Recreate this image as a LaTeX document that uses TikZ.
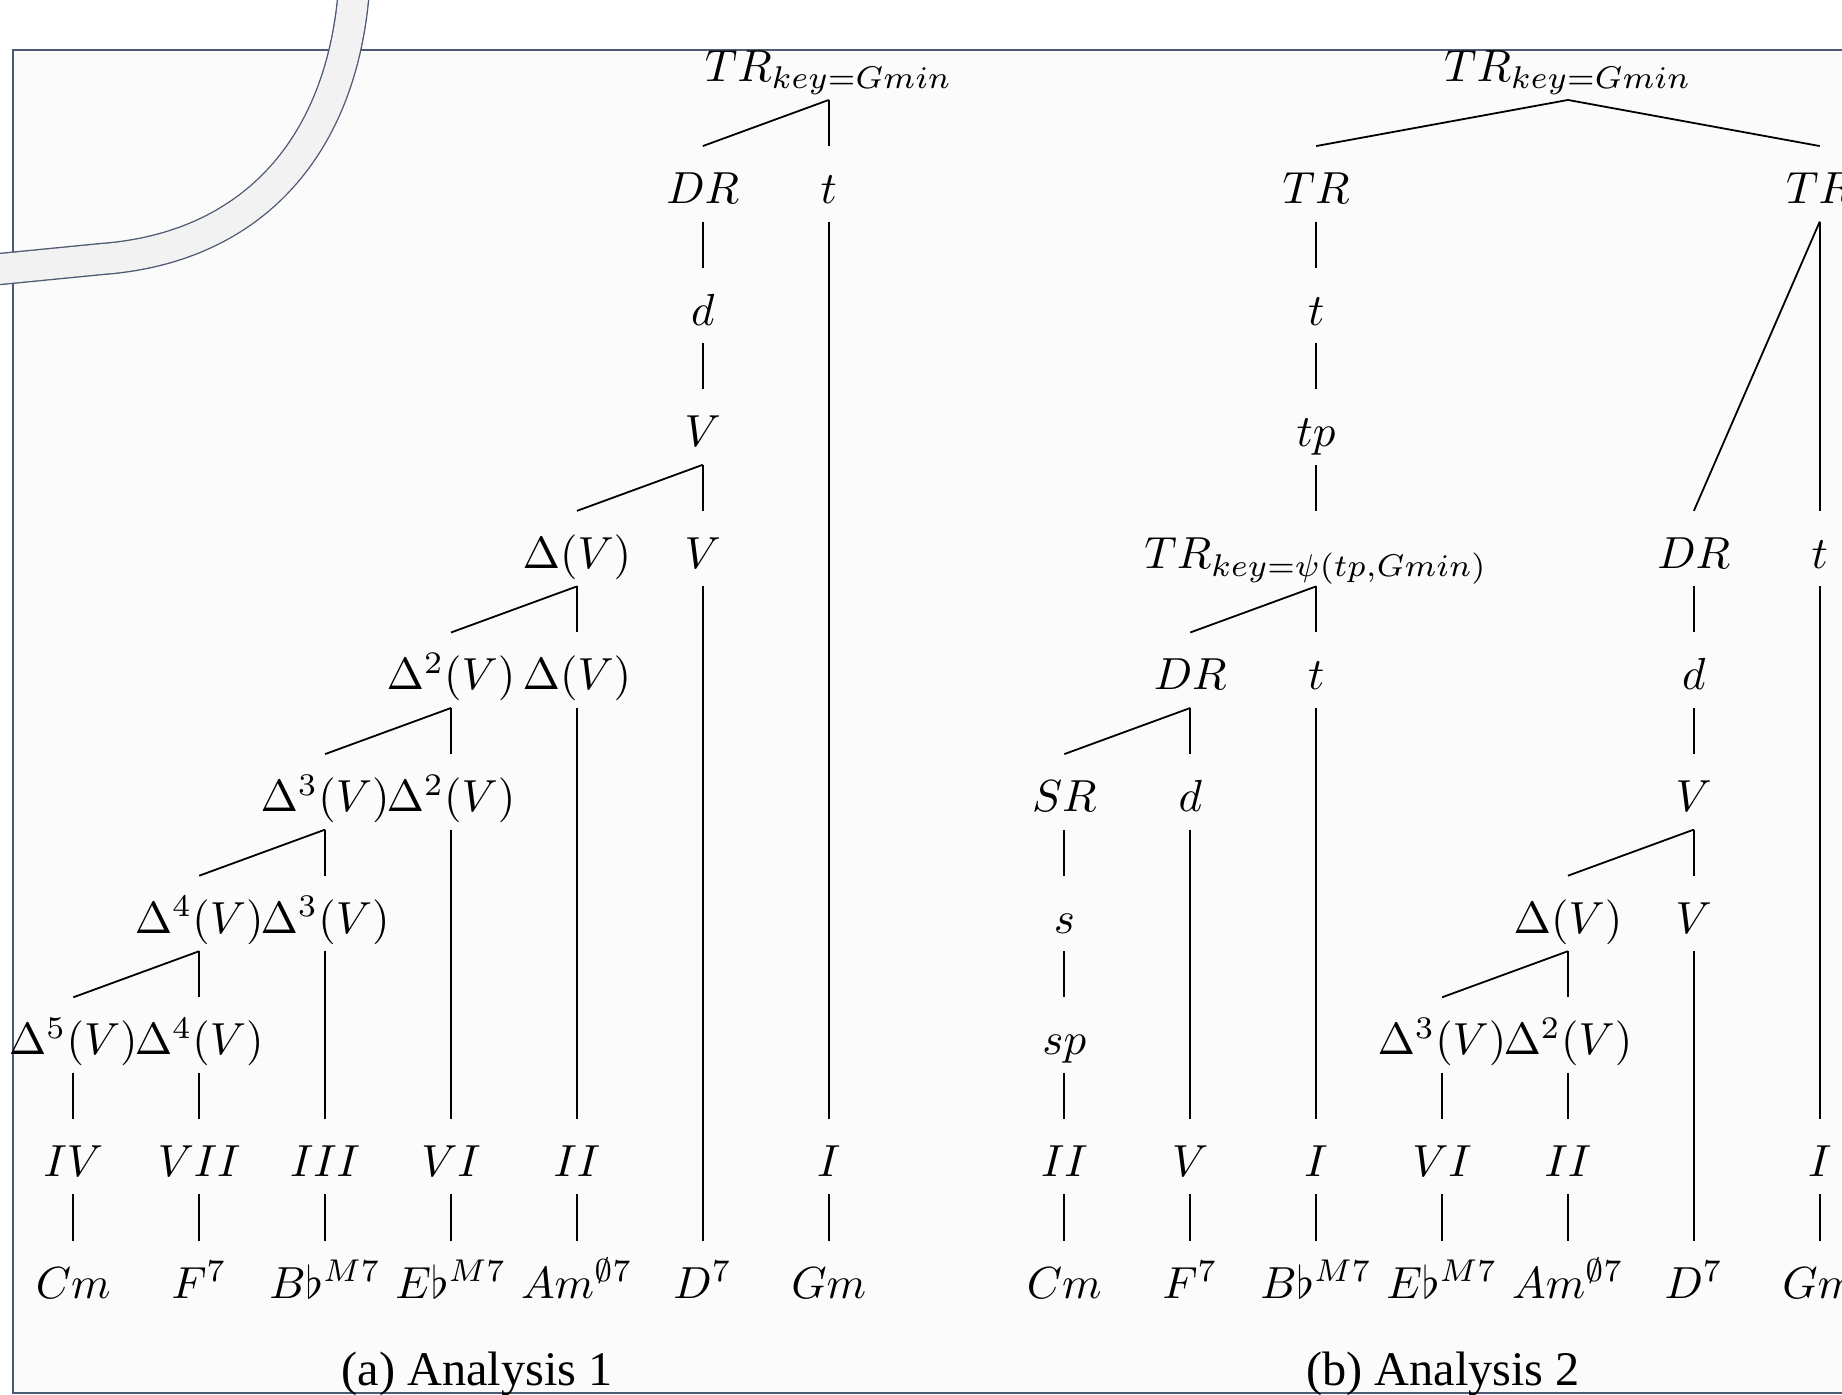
\documentclass[tikz,border=0pt]{standalone}
\usepackage{amsmath}
\usepackage[no-math]{fontspec}
\newfontfamily\capfont{Liberation Serif}
\definecolor{framecol}{HTML}{4E5A74}
\definecolor{panecol}{HTML}{FBFBFB}
\definecolor{bandcol}{HTML}{F2F2F2}
\begin{document}
\begin{tikzpicture}[scale=0.0782]
\tikzstyle{every node}+=[anchor=base, inner xsep=1pt, inner ysep=3.3pt, text height=9.3pt, text depth=0.5pt]
\useasboundingbox (0,0) rectangle (184.2,-139.5);
\clip (0,0) rectangle (184.2,-139.5);
\fill [white] (0,0) rectangle (184.2,-139.5);
\draw [framecol, fill=panecol, line width=0.45pt] (1.27,-5) rectangle (190,-139.3);
% the grey band over the corner
\draw [framecol, line width=0.3pt, double=bandcol, double distance=6.6pt] (35.4,1) -- (35.3,0) .. controls (33.8,-15) and (25,-24.8) .. (10.2,-25.9) -- (-1,-27);
% analysis 1
\node (aroot) at (82.87,-8.2) {$TR_{key=Gmin}$};
\node (adr) at (70.28,-20.36) {$DR$};
\node (at) at (82.87,-20.36) {$t$};
\node (ad) at (70.28,-32.52) {$d$};
\node (av) at (70.28,-44.68) {$V$};
\node (adl1) at (57.69,-56.84) {$\Delta(V)$};
\node (av1) at (70.28,-56.84) {$V$};
\node (adl2) at (45.10,-69) {$\Delta^2(V)$};
\node (adl1b) at (57.69,-69) {$\Delta(V)$};
\node (adl3) at (32.51,-81.16) {$\Delta^3(V)$};
\node (adl2b) at (45.10,-81.16) {$\Delta^2(V)$};
\node (adl4) at (19.92,-93.32) {$\Delta^4(V)$};
\node (adl3b) at (32.51,-93.32) {$\Delta^3(V)$};
\node (adl5) at (7.33,-105.48) {$\Delta^5(V)$};
\node (adl4b) at (19.92,-105.48) {$\Delta^4(V)$};
\node (aiv) at (7.33,-117.64) {$IV$};
\node (avii) at (19.92,-117.64) {$VII$};
\node (aiii) at (32.51,-117.64) {$III$};
\node (avi) at (45.10,-117.64) {$VI$};
\node (aii) at (57.69,-117.64) {$II$};
\node (ai) at (82.87,-117.64) {$I$};
\node (acm) at (7.33,-129.8) {$Cm$};
\node (af) at (19.92,-129.8) {$F^7$};
\node (abb) at (32.51,-129.8) {$B\flat^{M7}$};
\node (aeb) at (45.10,-129.8) {$E\flat^{M7}$};
\node (aam) at (57.69,-129.8) {$Am^{\emptyset7}$};
\node (adseven) at (70.28,-129.8) {$D^7$};
\node (agm) at (82.87,-129.8) {$Gm$};
\draw (aroot.south) -- (adr.north);
\draw (aroot.south) -- (at.north);
\draw (adr.south) -- (ad.north);
\draw (ad.south) -- (av.north);
\draw (av.south) -- (adl1.north);
\draw (av.south) -- (av1.north);
\draw (adl1.south) -- (adl2.north);
\draw (adl1.south) -- (adl1b.north);
\draw (adl2.south) -- (adl3.north);
\draw (adl2.south) -- (adl2b.north);
\draw (adl3.south) -- (adl4.north);
\draw (adl3.south) -- (adl3b.north);
\draw (adl4.south) -- (adl5.north);
\draw (adl4.south) -- (adl4b.north);
\draw (adl5.south) -- (aiv.north);
\draw (adl4b.south) -- (avii.north);
\draw (adl3b.south) -- (aiii.north);
\draw (adl2b.south) -- (avi.north);
\draw (adl1b.south) -- (aii.north);
\draw (av1.south) -- (adseven.north);
\draw (at.south) -- (ai.north);
\draw (aiv.south) -- (acm.north);
\draw (avii.south) -- (af.north);
\draw (aiii.south) -- (abb.north);
\draw (avi.south) -- (aeb.north);
\draw (aii.south) -- (aam.north);
\draw (ai.south) -- (agm.north);
% analysis 2
\node (broot) at (156.79,-8.2) {$TR_{key=Gmin}$};
\node (btrl) at (131.61,-20.36) {$TR$};
\node (btrr) at (181.97,-20.36) {$TR$};
\node (bt) at (131.61,-32.52) {$t$};
\node (btp) at (131.61,-44.68) {$tp$};
\node (btrk) at (131.61,-56.84) {$TR_{key=\psi(tp,Gmin)}$};
\node (bdr2) at (169.38,-56.84) {$DR$};
\node (bt2) at (181.97,-56.84) {$t$};
\node (bdr) at (119.02,-69) {$DR$};
\node (btt) at (131.61,-69) {$t$};
\node (bd2) at (169.38,-69) {$d$};
\node (bsr) at (106.43,-81.16) {$SR$};
\node (bd) at (119.02,-81.16) {$d$};
\node (bv) at (169.38,-81.16) {$V$};
\node (bs) at (106.43,-93.32) {$s$};
\node (bdl1) at (156.79,-93.32) {$\Delta(V)$};
\node (bv1) at (169.38,-93.32) {$V$};
\node (bsp) at (106.43,-105.48) {$sp$};
\node (bdl3) at (144.20,-105.48) {$\Delta^3(V)$};
\node (bdl2) at (156.79,-105.48) {$\Delta^2(V)$};
\node (bii) at (106.43,-117.64) {$II$};
\node (bvv) at (119.02,-117.64) {$V$};
\node (bi) at (131.61,-117.64) {$I$};
\node (bvi) at (144.20,-117.64) {$VI$};
\node (bii2) at (156.79,-117.64) {$II$};
\node (bi2) at (181.97,-117.64) {$I$};
\node (bcm) at (106.43,-129.8) {$Cm$};
\node (bf) at (119.02,-129.8) {$F^7$};
\node (bbb) at (131.61,-129.8) {$B\flat^{M7}$};
\node (beb) at (144.20,-129.8) {$E\flat^{M7}$};
\node (bam) at (156.79,-129.8) {$Am^{\emptyset7}$};
\node (bdseven) at (169.38,-129.8) {$D^7$};
\node (bgm) at (181.97,-129.8) {$Gm$};
\draw (broot.south) -- (btrl.north);
\draw (broot.south) -- (btrr.north);
\draw (btrl.south) -- (bt.north);
\draw (bt.south) -- (btp.north);
\draw (btp.south) -- (btrk.north);
\draw (btrk.south) -- (bdr.north);
\draw (btrk.south) -- (btt.north);
\draw (bdr.south) -- (bsr.north);
\draw (bdr.south) -- (bd.north);
\draw (bsr.south) -- (bs.north);
\draw (bs.south) -- (bsp.north);
\draw (bsp.south) -- (bii.north);
\draw (bd.south) -- (bvv.north);
\draw (btt.south) -- (bi.north);
\draw (btrr.south) -- (bdr2.north);
\draw (btrr.south) -- (bt2.north);
\draw (bdr2.south) -- (bd2.north);
\draw (bd2.south) -- (bv.north);
\draw (bv.south) -- (bdl1.north);
\draw (bv.south) -- (bv1.north);
\draw (bdl1.south) -- (bdl3.north);
\draw (bdl1.south) -- (bdl2.north);
\draw (bdl3.south) -- (bvi.north);
\draw (bdl2.south) -- (bii2.north);
\draw (bv1.south) -- (bdseven.north);
\draw (bt2.south) -- (bi2.north);
\draw (bii.south) -- (bcm.north);
\draw (bvv.south) -- (bf.north);
\draw (bi.south) -- (bbb.north);
\draw (bvi.south) -- (beb.north);
\draw (bii2.south) -- (bam.north);
\draw (bi2.south) -- (bgm.north);
% captions
\node (capa) at (47.7,-138.5) {\capfont\fontsize{10.75pt}{12pt}\selectfont (a) Analysis 1};
\node (capb) at (144.3,-138.5) {\capfont\fontsize{10.75pt}{12pt}\selectfont (b) Analysis 2};
\end{tikzpicture}
\end{document}
